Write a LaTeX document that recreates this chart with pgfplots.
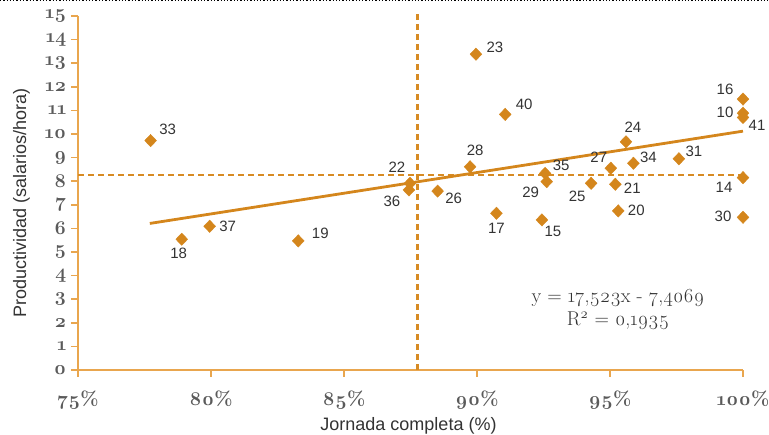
\documentclass[border=0pt]{standalone}
\usepackage{pgfplots}
\pgfplotsset{compat=1.18}
\usepackage{fontspec}
\setmainfont{Liberation Sans}
\newfontfamily\osf{Latin Modern Roman}[Numbers=OldStyle]
\definecolor{mk}{HTML}{D4861C}
\definecolor{ax}{HTML}{E9A64E}
\definecolor{txt}{HTML}{333333}
\definecolor{tk}{HTML}{5A5A5A}
\begin{document}
\begin{tikzpicture}[x=1bp,y=1bp]
\path[use as bounding box] (0,0) rectangle (769,435);
\draw[dotted, line width=1.3bp, black] (0,434.3) -- (769,434.3);
\begin{axis}[
  at={(78bp,65bp)}, anchor=south west,
  width=665bp, height=354bp, scale only axis,
  xmin=75, xmax=100, ymin=0, ymax=15,
  clip=false,
  axis x line*=bottom, axis y line*=left,
  axis line style={ax, line width=1.8bp},
  every tick/.style={ax, line width=1.6bp},
  tick align=outside, major tick length=7bp,
  xtick={75,80,85,90,95,100},
  xticklabels={75\%,80\%,85\%,90\%,95\%,100\%},
  ytick={0,1,...,15},
  /pgf/number format/assume math mode=true,
  tick label style={font=\osf\bfseries\fontsize{19.5bp}{21bp}\selectfont, text=tk},
  xticklabel style={yshift=-10bp},
  yticklabel style={xshift=-1bp},
  xlabel={Jornada completa (\%)},
  ylabel={Productividad (salarios/hora)},
  label style={font=\fontsize{18bp}{20bp}\selectfont, text=txt},
  xlabel style={at={(axis description cs:0.497,0)}, anchor=base, yshift=-61bp},
  ylabel style={at={(axis description cs:-0.078,0.472)}, anchor=base},
]
% reference lines
\addplot[mk!85!ax, line width=2.4bp, dash pattern=on 6bp off 4bp] coordinates {(87.77,0) (87.77,15.1)};
\addplot[mk!85!ax, line width=2.4bp, dash pattern=on 6bp off 4bp] coordinates {(75,8.25) (100,8.25)};
% trend line
\addplot[mk, line width=2.8bp] coordinates {(77.7,6.21) (100,10.12)};
% data points
\addplot[only marks, mark=diamond*, mark size=6.2bp, mark options={mk, draw=mk, xscale=1.27},
  point meta=explicit symbolic,
  nodes near coords,
  visualization depends on={value \thisrow{dx}\as\dx},
  visualization depends on={value \thisrow{dy}\as\dy},
  every node near coord/.append style={anchor=center, xshift=\dx bp, yshift=\dy bp,
     font=\fontsize{15bp}{17bp}\selectfont, text=txt, inner sep=0pt},
] table[meta=lbl] {
x y lbl dx dy
77.73 9.72 33 17 11
78.90 5.54 18 -3 -14
79.95 6.09 37 18 0
83.28 5.47 19 22 8
87.48 7.91 22 -13 16
87.44 7.63 36 -17 -11
88.52 7.58 26 16 -7
89.74 8.61 28 5 16
89.96 13.38 23 19 7
91.06 10.83 40 19 10
90.73 6.64 17 0 -15
92.44 6.36 15 11 -12
92.56 8.33 35 16 8
92.62 7.98 29 -16 -11
94.29 7.91 25 -14 -13
95.03 8.55 27 -12 11
95.20 7.87 21 17 -4
95.31 6.74 20 18 1
95.60 9.67 24 7 15
95.88 8.76 34 15 6
97.59 8.95 31 15 7
100 11.48 16 -18 10
100 10.88 10 -18 1
100 10.70 41 14 -8
100 8.15 14 -19 -10
100 6.47 30 -20 1
};
\node[font=\osf\fontsize{20bp}{23bp}\selectfont, text=txt, align=center] at (axis cs:95.3,2.56) {y = 17,523x - 7,4069\\R\textsuperscript{2} = 0,1935};
\end{axis}
\end{tikzpicture}
\end{document}
